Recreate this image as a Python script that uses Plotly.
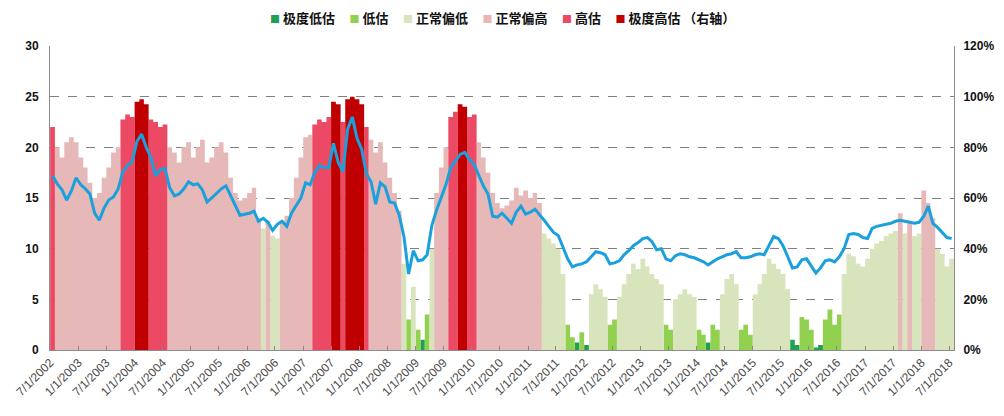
import pandas as pd
import plotly.graph_objects as go

# Monthly observations, Jul 2002 .. Jul 2018
START_MONTH = "2002-07-01"
END_MONTH = "2018-07-01"

# PE (left axis)
pe = [
    17.2, 16.4, 15.8, 14.8, 15.7, 17.0, 16.3, 15.9, 15.4, 13.5, 12.8, 14.0,
    14.8, 15.1, 15.9, 17.6, 18.2, 18.6, 20.6, 21.3, 20.0, 19.0, 17.2, 17.8,
    17.9, 16.0, 15.2, 15.4, 15.9, 16.6, 16.3, 16.4, 15.8, 14.6, 15.0, 15.5,
    15.9, 16.2, 15.2, 14.2, 13.3, 13.4, 13.5, 13.7, 12.7, 13.0, 12.6, 11.8,
    12.4, 12.7, 12.2, 13.5, 14.3, 15.0, 16.5, 16.3, 17.5, 18.2, 18.0, 18.0,
    20.4, 18.5, 17.6, 21.8, 23.0, 20.9, 19.8, 17.4, 16.6, 14.4, 16.5, 16.1,
    14.6, 14.5, 13.3, 11.2, 7.5, 9.8, 8.8, 8.9, 9.4, 12.3, 13.8, 15.0,
    16.3, 18.0, 18.6, 19.3, 19.5, 18.8, 18.3, 17.3, 16.2, 15.4, 13.2, 13.1,
    13.5, 13.0, 12.5, 13.6, 14.2, 13.4, 13.6, 13.9, 13.3, 12.8, 12.2, 11.6,
    11.3, 10.2, 9.0, 8.2, 8.4, 8.5, 8.7, 9.2, 9.7, 9.6, 9.4, 8.5,
    8.6, 8.8, 9.4, 9.8, 10.3, 10.6, 11.0, 11.1, 10.7, 9.9, 10.0, 9.0,
    8.8, 9.3, 9.5, 9.4, 9.2, 9.1, 8.9, 8.7, 8.4, 8.7, 9.0, 9.2,
    9.4, 9.5, 9.7, 9.1, 9.1, 9.2, 9.4, 9.5, 9.4, 10.3, 11.2, 11.0,
    10.3, 9.2, 8.1, 8.2, 8.9, 9.0, 8.3, 7.6, 8.1, 8.8, 8.9, 8.7,
    9.2, 10.0, 11.4, 11.5, 11.4, 11.1, 11.0, 12.0, 12.2, 12.3, 12.4, 12.5,
    12.7, 12.8, 12.7, 12.6, 12.5, 12.6, 13.2, 14.2, 12.5, 12.1, 11.6, 11.1,
    11.0,
]

# PE percentile in % (right axis)
pct = [
    88, 80, 76, 82, 84, 82, 76, 72, 66, 60, 62, 68,
    72, 78, 80, 91, 93, 92, 98, 99, 97, 91, 90, 88,
    89, 80, 78, 74, 80, 82, 76, 80, 83, 74, 76, 80,
    82, 78, 68, 62, 59, 60, 62, 64, 52, 48, 51, 45,
    44, 51, 53, 60, 68, 76, 84, 85, 89, 91, 90, 92,
    98, 97, 90, 99, 100, 99, 97, 88, 83, 78, 82, 74,
    68, 62, 55, 34, 12, 25, 8, 4, 14, 40, 62, 72,
    80, 92, 94, 97, 96, 92, 93, 82, 76, 70, 62, 58,
    56, 57, 59, 64, 61, 63, 60, 62, 58, 46, 44, 42,
    40, 30, 10, 5, 3, 7, 2, 22, 26, 24, 21, 10,
    12, 21, 26, 30, 34, 32, 36, 33, 30, 28, 26, 10,
    8, 20, 22, 24, 22, 21, 8, 6, 3, 10, 8, 22,
    28, 30, 26, 8, 10, 6, 22, 26, 30, 36, 34, 32,
    30, 24, 4, 2, 13, 12, 8, 1, 2, 12, 16, 10,
    14, 30, 38, 37, 34, 33, 36, 40, 42, 43, 45, 46,
    47, 54, 46, 51, 45, 46, 63, 58, 52, 40, 38, 33,
    36,
]

categories = ["极度低估", "低估", "正常偏低", "正常偏高", "高估", "极度高估 （右轴）"]
cat_upper = [5, 20, 50, 87, 95, 1000]  # upper bound (exclusive) of each band, %
cat_colors = ["#1FA052", "#92D050", "#D8E4BC", "#E6B9B8", "#EC4A64", "#C00000"]

left_ticks = [0, 5, 10, 15, 20, 25, 30]
right_ticks = [0, 0.2, 0.4, 0.6, 0.8, 1.0, 1.2]

months = pd.date_range(START_MONTH, END_MONTH, freq="MS")
# step edges: each month's band spans to the start of the following month
edges = list(months) + [months[-1] + pd.offsets.MonthBegin(1)]


def band(v):
    for i, ub in enumerate(cat_upper):
        if v < ub:
            return i
    return len(cat_upper) - 1


bands = [band(v) for v in pct]

fig = go.Figure()

# Percentile areas by category (primary y = percent axis shown on the right)
for i, name in enumerate(categories):
    ys = [p / 100 if b == i else 0 for p, b in zip(pct, bands)]
    ys = ys + [ys[-1]]
    fig.add_trace(go.Scatter(
        x=edges, y=ys, name=name, showlegend=False,
        mode="lines", line=dict(width=0, shape="hv", color=cat_colors[i]),
        fill="tozeroy", fillcolor=cat_colors[i],
        yaxis="y", hoverinfo="skip",
    ))

# PE line (secondary y, displayed on the left, drawn on top)
fig.add_trace(go.Scatter(
    x=months, y=pe, mode="lines", name="PE", showlegend=False,
    line=dict(color="#1AA0DC", width=3),
    xperiod="M1", xperiodalignment="middle",
    yaxis="y2",
))

# Legend drawn as a single rich-text line
sep = "\u00a0" * 5
parts = []
for name, col in zip(categories, cat_colors):
    parts.append(
        f'<span style="color:{col};font-size:10px">■</span>\u00a0<b>{name}</b>'
    )
legend_text = sep.join(parts)

fig.add_annotation(
    text=legend_text, xref="paper", yref="paper", x=0.5, y=1.093,
    xanchor="center", yanchor="middle", showarrow=False,
    font=dict(family="Noto Sans CJK SC", size=13, color="#111"),
)

# page body has an 8px margin, so the figure is 8px smaller than the window
fig.update_layout(
    width=996, height=408,
    margin=dict(l=42, r=50, t=38, b=66),
    paper_bgcolor="white", plot_bgcolor="white",
    showlegend=False,
    font=dict(family="Liberation Sans, Arial, sans-serif", color="#222"),
    xaxis=dict(
        type="date", automargin=False,
        range=["2002-06-30", "2018-08-01"],
        tick0="2002-07-01", dtick="M6", tickformat="%-m/%-d/%Y",
        tickangle=-45, ticks="inside", ticklen=4, tickcolor="#888",
        tickfont=dict(size=12, color="#4a4a4a"),
        showgrid=False, showline=True, linecolor="#8c8c8c", linewidth=1,
        zeroline=False,
    ),
    yaxis=dict(
        side="right", range=[0, 1.2], tickvals=right_ticks, tickformat=".0%",
        automargin=False, ticklabelstandoff=6,
        showgrid=True, gridcolor="#7f7f7f", griddash="dash", gridwidth=1,
        showline=True, linecolor="#8c8c8c", linewidth=1,
        zeroline=False, ticks="",
        tickfont=dict(size=12, color="#111", weight="bold"),
    ),
    yaxis2=dict(
        overlaying="y", side="left", range=[0, 30], tickvals=left_ticks,
        automargin=False, ticklabelstandoff=8,
        showgrid=False, showline=True, linecolor="#8c8c8c", linewidth=1,
        zeroline=False, ticks="",
        tickfont=dict(size=12, color="#111", weight="bold"),
    ),
)

fig.write_html("out.html")
